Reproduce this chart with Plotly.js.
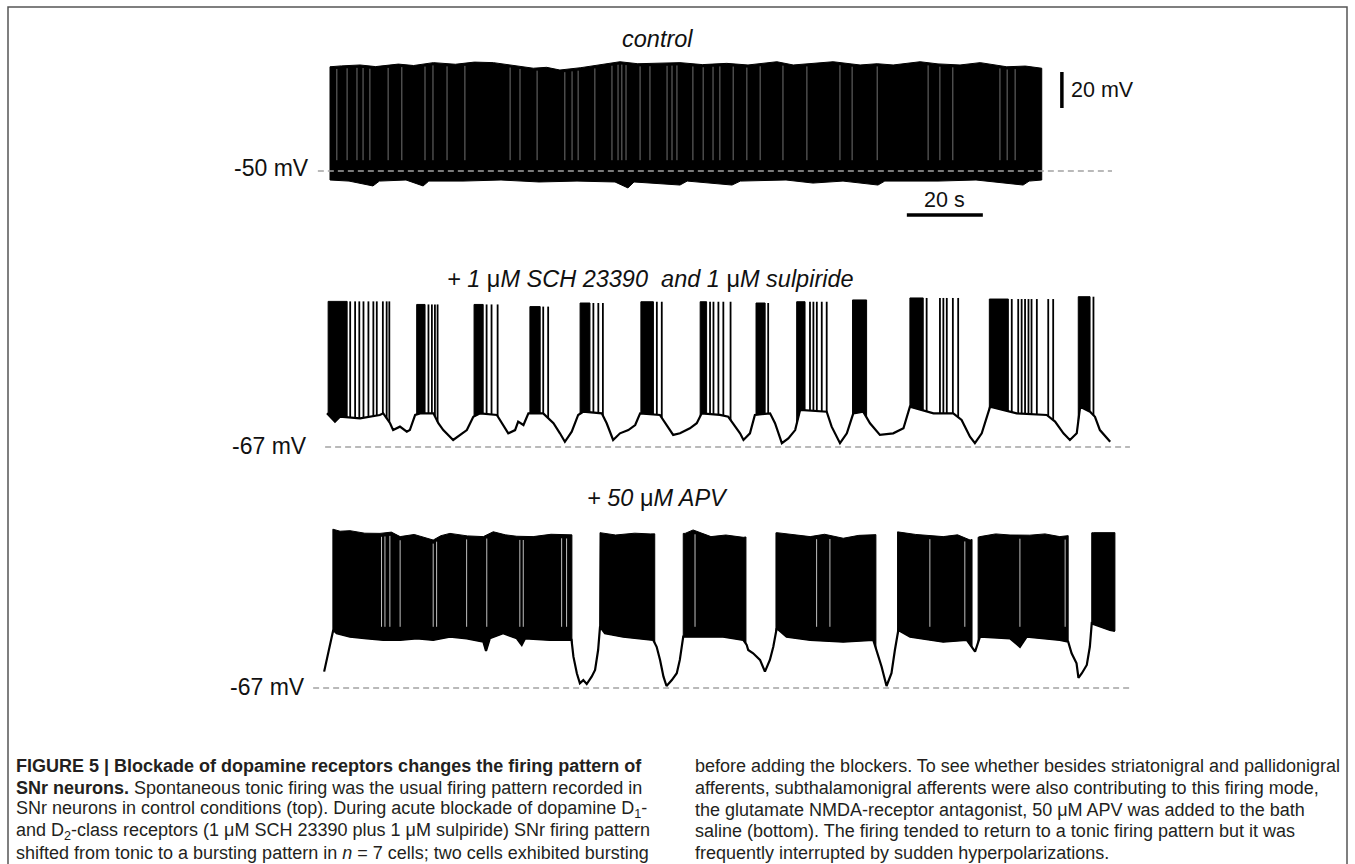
<!DOCTYPE html>
<html><head><meta charset="utf-8">
<script src="https://cdn.plot.ly/plotly-3.0.1.min.js"></script>
<style>html,body{margin:0;padding:0;background:#fff;overflow:hidden}#chart{width:1355px;height:864px}</style>
</head><body><div id="chart"></div>
<script>
// ================= DATA (time in s, membrane potential in mV) =================
// --- control: tonic firing (dense spike band) ---
const ctrlTopT = [0, 3, 7.9, 12, 18, 22, 27.2, 33, 38, 43.0, 48, 53.5, 57, 60.5, 66, 71.1, 76.3, 81, 86.8, 92.1, 98, 104.4, 110, 117.6, 121.9, 127, 132.4, 139.5, 144, 148.2, 155.3, 160, 165.8, 171.1, 178.1, 183, 187.3];
const ctrlTopV = [7.9, 8.4, 8.9, 8.0, 9.4, 8.6, 10.2, 9.3, 10.5, 10.2, 8.8, 7.1, 7.6, 6.1, 7.4, 8.9, 10.7, 9.6, 9.8, 10.2, 9.1, 9.8, 8.9, 10.7, 8.9, 9.9, 10.7, 8.9, 9.6, 8.9, 10.7, 9.5, 8.9, 10.2, 7.9, 8.3, 7.1];
const ctrlBotT = [0, 5, 11.3, 13, 20, 24.5, 26, 35, 45, 55, 65, 75, 78.4, 80, 92.1, 94, 105.8, 108, 120, 127.1, 135, 144.2, 146, 160, 170, 182.4, 184, 187.3];
const ctrlBotV = [-55.0, -55.6, -58.3, -55.6, -55.0, -58.3, -55.6, -55.6, -55.0, -56.1, -55.6, -56.1, -59.4, -56.1, -57.8, -55.6, -57.8, -55.6, -55.0, -56.7, -55.6, -57.8, -55.6, -55.6, -55.0, -57.8, -55.6, -55.0];
const ctrlPauseT = [1.8, 4.5, 7.1, 8.7, 10.5, 15.3, 18.9, 25.0, 27.1, 30.8, 35.5, 47.4, 50.0, 54.5, 61.8, 63.7, 65.3, 69.7, 74.2, 75.8, 76.8, 77.9, 81.6, 84.2, 88.7, 90.0, 91.3, 95.5, 98.2, 100.8, 102.6, 106.1, 109.7, 113.2, 119.2, 125.5, 134.2, 137.4, 144.0, 157.4, 160.5, 163.9, 176.3, 178.2, 180.3];

// --- + 1 uM SCH 23390 and 1 uM sulpiride: bursting ---
const sulpBaseT = [0, 2.1, 3.4, 8.7, 13.9, 14.8, 16.6, 17.4, 19.2, 21.0, 21.8, 23.2, 24.5, 28.0, 29.3, 30.6, 33.2, 35.0, 36.8, 38.5, 40.3, 44.7, 46.0, 47.7, 49.5, 50.3, 51.7, 53.0, 56.9, 59.6, 61.3, 62.6, 64.4, 66.1, 67.4, 72.3, 73.6, 75.3, 77.1, 79.3, 81.1, 82.4, 87.6, 89.4, 91.1, 92.9, 95.5, 97.3, 98.6, 103.4, 105.6, 106.5, 108.7, 109.6, 111.3, 112.6, 116.6, 117.9, 119.7, 121.4, 123.2, 124.5, 131.5, 132.8, 135.0, 136.8, 138.5, 141.1, 142.9, 145.5, 149.0, 151.7, 153.4, 159.6, 164.8, 167.0, 169.2, 170.5, 172.3, 174.5, 181.5, 189.4, 191.6, 193.8, 195.5, 197.3, 198.2, 200.8, 202.1, 203.4, 206.1];
const sulpBaseV = [-48.3, -52.9, -50.2, -51.1, -49.2, -48.3, -53.8, -57.6, -55.7, -58.5, -57.6, -49.2, -48.3, -48.3, -53.8, -57.6, -63.1, -60.3, -57.6, -50.2, -48.3, -49.2, -53.8, -59.4, -57.6, -52.9, -54.8, -48.3, -48.3, -53.8, -59.4, -64.1, -58.5, -49.2, -47.4, -48.3, -53.8, -63.1, -59.4, -57.6, -54.8, -48.3, -49.2, -54.8, -60.3, -59.4, -56.6, -53.8, -48.3, -49.2, -50.2, -52.9, -59.4, -63.1, -59.4, -49.2, -48.3, -53.8, -64.9, -62.2, -57.6, -46.4, -47.4, -55.7, -64.9, -59.4, -48.3, -47.4, -53.8, -60.3, -59.4, -56.6, -44.6, -48.3, -48.3, -52.0, -61.3, -64.9, -59.4, -44.6, -48.3, -49.2, -52.9, -59.4, -63.1, -59.4, -44.6, -47.4, -50.2, -57.6, -64.1];
const sulpBurstStart = [0.3, 23.6, 38.7, 53.4, 66.6, 82.6, 98.2, 112.9, 123.6, 138.3, 153.4, 174.3, 197.7];
const sulpBurstDenseEnd = [5.3, 25.8, 41.1, 56.1, 69.2, 85.9, 99.9, 115.3, 125.8, 142.0, 156.9, 179.3, 200.8];
const sulpBurstPeak = [13.9, 12.2, 12.2, 11.0, 13.0, 13.7, 13.7, 13.0, 13.7, 14.7, 15.8, 15.2, 16.5];
const sulpSpikeT = [6.1, 7.4, 8.5, 9.6, 10.9, 12.2, 13.1, 14.7, 15.7, 16.4, 26.7, 27.6, 28.4, 29.1, 42.0, 43.3, 44.9, 56.9, 58.2, 70.1, 71.4, 72.6, 86.8, 88.1, 100.8, 101.7, 103.0, 104.3, 106.2, 116.1, 127.1, 128.0, 128.9, 130.2, 131.5, 157.8, 161.3, 162.2, 163.1, 164.7, 166.1, 180.2, 181.9, 182.8, 183.7, 184.6, 185.4, 186.8, 189.8, 191.1, 201.7];

// --- + 50 uM APV: tonic firing interrupted by hyperpolarizations ---
const apvBaseT = [0.3, 1.4, 2.3, 2.7, 3.6, 7.1, 11.5, 15.9, 20.3, 24.7, 29.0, 33.4, 37.8, 42.2, 42.9, 43.9, 47.4, 51.0, 52.3, 53.2, 59.7, 65.4, 65.9, 66.8, 67.6, 68.5, 69.4, 70.7, 71.6, 72.4, 72.9, 74.2, 79.0, 86.9, 87.8, 88.7, 89.6, 90.4, 91.8, 93.1, 93.9, 94.8, 98.3, 105.3, 110.6, 111.5, 111.9, 113.2, 115.0, 116.3, 117.6, 118.5, 119.4, 122.0, 128.2, 136.9, 144.8, 145.7, 147.0, 148.3, 149.6, 150.5, 151.4, 154.5, 163.2, 169.4, 171.6, 172.9, 180.8, 183.4, 185.2, 193.9, 196.1, 197.0, 198.3, 198.8, 199.7, 201.0, 201.8, 202.3, 207.1, 208.4];
const apvBaseV = [-57.9, -47.7, -40.3, -34.8, -36.6, -38.5, -39.4, -40.3, -40.3, -39.4, -40.3, -38.5, -39.4, -41.3, -46.4, -39.4, -36.6, -39.4, -43.1, -39.4, -40.3, -40.3, -49.6, -58.8, -64.4, -62.6, -64.8, -60.7, -57.0, -45.9, -32.9, -36.6, -38.5, -40.3, -44.1, -51.4, -60.7, -65.9, -62.6, -58.8, -51.4, -38.5, -38.5, -38.5, -40.3, -43.1, -45.9, -47.7, -51.4, -57.9, -51.4, -44.1, -33.8, -38.5, -40.3, -41.3, -40.3, -45.9, -55.2, -65.9, -58.8, -45.9, -34.8, -38.5, -41.3, -40.3, -46.8, -38.5, -39.4, -44.1, -38.5, -40.3, -41.3, -47.7, -53.3, -61.4, -58.8, -54.2, -44.1, -31.1, -34.8, -35.3];
const apvTopT = [1.8, 4.5, 7.1, 11, 15.0, 18, 20.3, 24, 29.0, 31, 33.4, 38, 42.2, 44.8, 48, 51, 55.3, 60, 65.0, 72.9, 77, 82, 86.1, 95.3, 97.4, 102.1, 106, 110.6, 119.4, 124, 128.2, 132, 136.9, 141, 144.8, 151.0, 156, 163.2, 167, 170.3, 172.9, 177, 180.8, 186, 190, 193.9, 202.7, 208.4];
const apvTopV = [21.7, 20.1, 20.4, 19.0, 18.9, 19.6, 17.1, 18.3, 15.2, 17.6, 18.9, 17.5, 17.1, 19.8, 18.1, 17.3, 17.1, 18.4, 18.0, 19.3, 18.0, 19.0, 18.6, 18.9, 20.8, 17.1, 18.0, 16.7, 19.3, 18.2, 17.1, 18.4, 16.2, 17.8, 18.0, 19.8, 18.3, 17.1, 18.1, 15.2, 17.1, 18.6, 18.0, 17.9, 18.6, 17.1, 19.3, 19.3];
const apvFiringStart = [2.6, 72.8, 94.8, 119.2, 151.2, 172.4, 202.3];
const apvFiringEnd = [65.5, 87.3, 111.3, 145.5, 170.8, 196.1, 208.4];
const apvPauseT = [15.4, 16.3, 17.6, 20.3, 29.0, 29.9, 37.8, 43.1, 51.8, 52.7, 62.8, 64.1, 97.9, 129.9, 133.4, 159.7, 168.9, 183.4, 195.3];

// --- labels ---
const MU = '<span style="font-style:normal">\u03bc</span>';
const panelTitles = ['control', '+ 1 ' + MU + 'M SCH 23390 \u00a0and 1 ' + MU + 'M sulpiride', '+ 50 ' + MU + 'M APV'];
const restPotentials = [-50, -67, -67];
const scaleBarSeconds = 20;
const scaleBarMillivolts = 20;

const captionLeft = [
  '<b>FIGURE 5 | Blockade of dopamine receptors changes the firing pattern of</b>',
  '<b>SNr neurons.</b> Spontaneous tonic firing was the usual firing pattern recorded in',
  'SNr neurons in control conditions (top). During acute blockade of dopamine D<sub>1</sub>-',
  'and D<sub>2</sub>-class receptors (1 \u03bcM SCH 23390 plus 1 \u03bcM sulpiride) SNr firing pattern',
  'shifted from tonic to a bursting pattern in <i>n</i> = 7 cells; two cells exhibited bursting'
];
const captionRight = [
  'before adding the blockers. To see whether besides striatonigral and pallidonigral',
  'afferents, subthalamonigral afferents were also contributing to this firing mode,',
  'the glutamate NMDA-receptor antagonist, 50 \u03bcM APV was added to the bath',
  'saline (bottom). The firing tended to return to a tonic firing pattern but it was',
  'frequently interrupted by sudden hyperpolarizations.'
];

// ================= LAYOUT CONFIG (pixels) =================
const W = 1355, H = 864;
const PX_PER_S = 3.8, PX_PER_MV = 1.8;
const panelGeom = [
  {x0: 330, yRest: 171, dash: [-3.2, 205.8], titleY: 39, labelX: 311, labelY: 168},
  {x0: 327, yRest: 447, dash: [-0.5, 211.3], titleY: 279, labelX: 309, labelY: 446},
  {x0: 323, yRest: 688, dash: [-2.6, 212.9], titleY: 498, labelX: 307, labelY: 687}
];
const titleX = [657, 650, 657];
const scaleBarPos = {t0: 151.8, v0: -74.4, tV: 192.6, v1: -15.0};
const capY0 = 766, capDY = 21.8, capLeftX = 15, capRightX = 694, capSize = 18;
const capMaxWidth = {left: 652, right: 650, boldTitle: 628};

// ================= HELPERS =================
function interp(T, V, t) {
  if (t <= T[0]) return V[0];
  for (let i = 1; i < T.length; i++) {
    if (t <= T[i]) { const f = (t - T[i-1]) / (T[i] - T[i-1]); return V[i-1] + f * (V[i] - V[i-1]); }
  }
  return V[V.length - 1];
}
function blockPolygon(ts, te, topT, topV, botT, botV) {
  const xs = [], ys = [];
  xs.push(ts); ys.push(interp(botT, botV, ts));
  xs.push(ts); ys.push(interp(topT, topV, ts));
  for (let i = 0; i < topT.length; i++) if (topT[i] > ts && topT[i] < te) { xs.push(topT[i]); ys.push(topV[i]); }
  xs.push(te); ys.push(interp(topT, topV, te));
  xs.push(te); ys.push(interp(botT, botV, te));
  for (let i = botT.length - 1; i >= 0; i--) if (botT[i] > ts && botT[i] < te) { xs.push(botT[i]); ys.push(botV[i]); }
  xs.push(ts); ys.push(interp(botT, botV, ts));
  return [xs, ys];
}
const pxX = x => x / W;
const pxY = y => 1 - y / H;
const axSfx = i => (i === 0 ? '' : String(i + 1));

const traces = [];
function addPoly(i, polys, color) {
  const x = [], y = [];
  polys.forEach(p => { x.push(...p[0], null); y.push(...p[1], null); });
  traces.push({type: 'scatter', mode: 'lines', x, y, xaxis: 'x' + axSfx(i), yaxis: 'y' + axSfx(i),
    fill: 'toself', fillcolor: color, line: {color: color, width: 1}, hoverinfo: 'skip'});
}
function addSegments(i, x, y, color, width) {
  traces.push({type: 'scatter', mode: 'lines', x, y, xaxis: 'x' + axSfx(i), yaxis: 'y' + axSfx(i),
    line: {color: color, width: width}, hoverinfo: 'skip', connectgaps: false});
}

// ---- panel 1: control ----
addPoly(0, [blockPolygon(ctrlTopT[0], ctrlTopT[ctrlTopT.length-1], ctrlTopT, ctrlTopV, ctrlBotT, ctrlBotV)], '#000');
{
  const x = [], y = [];
  ctrlPauseT.forEach(t => { x.push(t, t, null); y.push(interp(ctrlTopT, ctrlTopV, t) - 1.5, -44, null); });
  addSegments(0, x, y, 'rgba(160,160,160,0.7)', 1);
}

// ---- panel 2: sulpiride ----
addSegments(1, sulpBaseT, sulpBaseV, '#000', 2.2);
{
  const polys = sulpBurstStart.map((ts, k) => blockPolygon(ts, sulpBurstDenseEnd[k], [ts, sulpBurstDenseEnd[k]], [sulpBurstPeak[k], sulpBurstPeak[k]], sulpBaseT, sulpBaseV));
  addPoly(1, polys, '#000');
  const x = [], y = [];
  sulpSpikeT.forEach(t => {
    let k = 0; for (let j = 0; j < sulpBurstStart.length; j++) if (sulpBurstStart[j] <= t) k = j;
    x.push(t, t, null); y.push(interp(sulpBaseT, sulpBaseV, t), sulpBurstPeak[k], null);
  });
  addSegments(1, x, y, '#000', 1.8);
}

// ---- panel 3: APV ----
addSegments(2, apvBaseT, apvBaseV, '#000', 2.2);
{
  const polys = apvFiringStart.map((ts, k) => blockPolygon(ts, apvFiringEnd[k], apvTopT, apvTopV, apvBaseT, apvBaseV));
  addPoly(2, polys, '#000');
  const x = [], y = [];
  apvPauseT.forEach(t => { x.push(t, t, null); y.push(interp(apvTopT, apvTopV, t) - 2, -33, null); });
  addSegments(2, x, y, 'rgba(255,255,255,0.75)', 1);
}

// ---- dashed resting-potential lines (on top) ----
panelGeom.forEach((g, i) => {
  traces.push({type: 'scatter', mode: 'lines', x: g.dash, y: [restPotentials[i], restPotentials[i]],
    xaxis: 'x' + axSfx(i), yaxis: 'y' + axSfx(i), line: {color: '#a3a3a3', width: 1.6, dash: '6px,4px'}, hoverinfo: 'skip'});
});

// ================= LAYOUT =================
const LBL_FONT = 'Liberation Sans, Arial, sans-serif';
const CAP_FONT = 'Liberation Sans, Arial, sans-serif';
const layout = {
  width: W, height: H, autosize: false,
  margin: {l: 0, r: 0, t: 0, b: 0, pad: 0},
  paper_bgcolor: '#fff', plot_bgcolor: 'rgba(0,0,0,0)', showlegend: false,
  shapes: [], annotations: []
};
panelGeom.forEach((g, i) => {
  const s = axSfx(i);
  layout['xaxis' + s] = {domain: [0, 1], range: [-g.x0 / PX_PER_S, (W - g.x0) / PX_PER_S], visible: false, fixedrange: true, anchor: 'y' + s};
  layout['yaxis' + s] = {domain: [0, 1], range: [restPotentials[i] - (H - g.yRest) / PX_PER_MV, restPotentials[i] + g.yRest / PX_PER_MV], visible: false, fixedrange: true, anchor: 'x' + s};
  layout.annotations.push({xref: 'paper', yref: 'paper', x: pxX(titleX[i]), y: pxY(g.titleY), text: panelTitles[i],
    showarrow: false, xanchor: 'center', yanchor: 'middle', font: {family: LBL_FONT, size: 23.5, color: '#111', style: 'italic'}});
  layout.annotations.push({xref: 'paper', yref: 'paper', x: pxX(g.labelX), y: pxY(g.labelY), text: restPotentials[i] + ' mV',
    showarrow: false, xanchor: 'right', yanchor: 'middle', font: {family: LBL_FONT, size: 23, color: '#111'}});
});
// scale bars (panel 1 axes)
layout.shapes.push({type: 'line', xref: 'x', yref: 'y', x0: scaleBarPos.t0, x1: scaleBarPos.t0 + scaleBarSeconds, y0: scaleBarPos.v0, y1: scaleBarPos.v0, line: {color: '#000', width: 3.5}});
layout.shapes.push({type: 'line', xref: 'x', yref: 'y', x0: scaleBarPos.tV, x1: scaleBarPos.tV, y0: scaleBarPos.v1, y1: scaleBarPos.v1 + scaleBarMillivolts, line: {color: '#000', width: 3.5}});
layout.annotations.push({xref: 'x', yref: 'y', x: scaleBarPos.t0 + scaleBarSeconds / 2, y: scaleBarPos.v0, yshift: 15, text: scaleBarSeconds + ' s',
  showarrow: false, xanchor: 'center', yanchor: 'middle', font: {family: LBL_FONT, size: 21.5, color: '#111'}});
layout.annotations.push({xref: 'x', yref: 'y', x: scaleBarPos.tV, xshift: 7, y: scaleBarPos.v1 + scaleBarMillivolts / 2, text: scaleBarMillivolts + ' mV',
  showarrow: false, xanchor: 'left', yanchor: 'middle', font: {family: LBL_FONT, size: 21.5, color: '#111'}});
// figure frame
layout.shapes.push({type: 'rect', xref: 'paper', yref: 'paper', x0: pxX(8), x1: pxX(1347), y0: pxY(890), y1: pxY(7), line: {color: '#555', width: 1.5}, fillcolor: 'rgba(0,0,0,0)'});
// caption
const capInfo = [];
captionLeft.forEach((t, k) => {
  capInfo.push({idx: layout.annotations.length, maxW: k === 0 ? capMaxWidth.boldTitle : capMaxWidth.left});
  layout.annotations.push({xref: 'paper', yref: 'paper', x: pxX(capLeftX), y: pxY(capY0 + k * capDY), text: t,
    showarrow: false, xanchor: 'left', yanchor: 'middle', borderpad: 0, font: {family: CAP_FONT, size: capSize, color: '#231f20'}});
});
captionRight.forEach((t, k) => {
  capInfo.push({idx: layout.annotations.length, maxW: capMaxWidth.right});
  layout.annotations.push({xref: 'paper', yref: 'paper', x: pxX(capRightX), y: pxY(capY0 + k * capDY), text: t,
    showarrow: false, xanchor: 'left', yanchor: 'middle', borderpad: 0, font: {family: CAP_FONT, size: capSize, color: '#231f20'}});
});

Plotly.newPlot('chart', traces, layout, {staticPlot: true, displayModeBar: false}).then(gd => {
  // the caption face is condensed: squeeze any caption line still wider than its column, keeping its left edge
  capInfo.forEach(c => {
    const ann = gd.querySelector('.annotation[data-index="' + c.idx + '"]');
    if (!ann) return;
    const el = ann.querySelector('text.annotation-text');
    const bg = ann.querySelector('rect.bg');
    if (!el) return;
    const L = el.getComputedTextLength();
    if (L > c.maxW + 1) {
      const cx = parseFloat(el.getAttribute('x')) || 0;
      el.setAttribute('x', cx - L / 2);
      el.setAttribute('text-anchor', 'start');
      el.style.textAnchor = 'start';
      el.setAttribute('textLength', c.maxW);
      el.setAttribute('lengthAdjust', 'spacingAndGlyphs');
      if (bg) bg.setAttribute('width', c.maxW + 2);
    }
  });
});
</script>
</body></html>
